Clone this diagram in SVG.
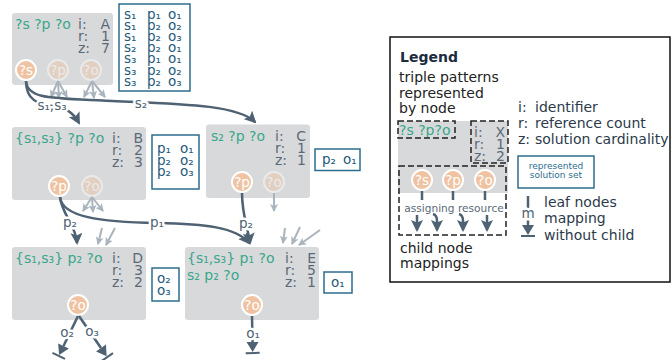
<svg xmlns="http://www.w3.org/2000/svg" width="672" height="360" viewBox="0 0 672 360">
  <style>
    text { font-family: 'DejaVu Sans', 'Liberation Sans', sans-serif; }
    .nd { fill: #d8d9db; }
    .pat { fill: #3aa78b; font-size: 14px; }
    .meta { fill: #5b6a78; font-size: 14px; }
    .val { fill: #5b6a78; font-size: 14px; text-anchor: end; }
    .solbox { fill: #fff; stroke: #2d6d8c; stroke-width: 1.5; }
    .sol { fill: #1e5a7a; font-size: 13.5px; }
    .var { fill: #efc3a1; stroke: #fff; stroke-width: 2; }
    .vt { fill: #fff; font-size: 13.5px; text-anchor: middle; }
    .faded { opacity: 0.45; }
    .edge { stroke: #4e6273; stroke-width: 2.5; fill: none; }
    .edge-l { stroke: #a9b4be; stroke-width: 2; fill: none; }
    .lbl { fill: #4e6273; font-size: 13.5px; text-anchor: middle; stroke: #fff; stroke-width: 5; stroke-linejoin: round; paint-order: stroke; }
    .dash { fill: none; stroke: #222; stroke-width: 1.5; stroke-dasharray: 6 3; }
    .lg { fill: #222; font-size: 14px; }
    .lg2 { fill: #2b3a4b; font-size: 14px; }
  </style>
  <defs>
    <marker id="ah" viewBox="0 0 12 12" refX="10" refY="6" markerWidth="12" markerHeight="12" markerUnits="userSpaceOnUse" orient="auto">
      <path d="M0,0 L12,6 L0,12 L2.5,6 z" fill="#4e6273"/>
    </marker>
    <marker id="ahg" viewBox="0 0 8 8" refX="7" refY="4" markerWidth="8" markerHeight="8" markerUnits="userSpaceOnUse" orient="auto">
      <path d="M0,0 L8,4 L0,8 L2,4 z" fill="#a9b4be"/>
    </marker>
    <marker id="leaf" viewBox="-1 -8 14 16" refX="0" refY="0" markerWidth="14" markerHeight="16" markerUnits="userSpaceOnUse" orient="auto">
      <path d="M0,-6 L10,0 L0,6 z" fill="#4e6273"/>
      <path d="M11,-7 V7" stroke="#4e6273" stroke-width="2"/>
    </marker>
  </defs>

  <!-- node A -->
  <g id="node-A">
    <rect class="nd" x="12" y="13" width="101" height="72" rx="3"/>
    <text class="pat" x="15" y="29">?s ?p ?o</text>
    <text class="meta" x="78" y="29">i:</text><text class="val" x="110" y="29">A</text>
    <text class="meta" x="78" y="41">r:</text><text class="val" x="110" y="41">1</text>
    <text class="meta" x="78" y="53">z:</text><text class="val" x="110" y="53">7</text>
    <circle class="var" cx="26" cy="70" r="10"/><text class="vt" x="26" y="74.8">?s</text>
    <g class="faded"><circle class="var" cx="58" cy="70" r="10"/><text class="vt" x="58" y="74.8">?p</text></g>
    <g class="faded"><circle class="var" cx="91" cy="70" r="10"/><text class="vt" x="91" y="74.8">?o</text></g>
    <rect class="solbox" x="119" y="4" width="71" height="87"/>
    <text class="sol"><tspan x="124" y="18.5">s₁</tspan><tspan x="147" y="18.5">p₁</tspan><tspan x="168" y="18.5">o₁</tspan></text>
    <text class="sol"><tspan x="124" y="29.7">s₁</tspan><tspan x="147" y="29.7">p₂</tspan><tspan x="168" y="29.7">o₂</tspan></text>
    <text class="sol"><tspan x="124" y="40.9">s₁</tspan><tspan x="147" y="40.9">p₂</tspan><tspan x="168" y="40.9">o₃</tspan></text>
    <text class="sol"><tspan x="124" y="52.1">s₂</tspan><tspan x="147" y="52.1">p₂</tspan><tspan x="168" y="52.1">o₁</tspan></text>
    <text class="sol"><tspan x="124" y="63.3">s₃</tspan><tspan x="147" y="63.3">p₁</tspan><tspan x="168" y="63.3">o₁</tspan></text>
    <text class="sol"><tspan x="124" y="74.5">s₃</tspan><tspan x="147" y="74.5">p₂</tspan><tspan x="168" y="74.5">o₂</tspan></text>
    <text class="sol"><tspan x="124" y="85.7">s₃</tspan><tspan x="147" y="85.7">p₂</tspan><tspan x="168" y="85.7">o₃</tspan></text>
  </g>

  <!-- node B -->
  <g id="node-B">
    <rect class="nd" x="12" y="127" width="134" height="73" rx="3"/>
    <text class="pat" x="15" y="143">{s₁,s₃} ?p ?o</text>
    <text class="meta" x="112" y="143">i:</text><text class="val" x="143" y="143">B</text>
    <text class="meta" x="112" y="155">r:</text><text class="val" x="143" y="155">2</text>
    <text class="meta" x="112" y="167">z:</text><text class="val" x="143" y="167">3</text>
    <circle class="var" cx="59" cy="186" r="10"/><text class="vt" x="59" y="190.8">?p</text>
    <g class="faded"><circle class="var" cx="92" cy="186" r="10"/><text class="vt" x="92" y="190.8">?o</text></g>
    <rect class="solbox" x="152" y="135" width="47" height="54"/>
    <text class="sol"><tspan x="157" y="153">p₁</tspan><tspan x="180" y="153">o₁</tspan></text>
    <text class="sol"><tspan x="157" y="164.5">p₂</tspan><tspan x="180" y="164.5">o₂</tspan></text>
    <text class="sol"><tspan x="157" y="176">p₂</tspan><tspan x="180" y="176">o₃</tspan></text>
  </g>

  <!-- node C -->
  <g id="node-C">
    <rect class="nd" x="206" y="124.5" width="104" height="73.5" rx="3"/>
    <text class="pat" x="211" y="141">s₂ ?p ?o</text>
    <text class="meta" x="275" y="141">i:</text><text class="val" x="306" y="141">C</text>
    <text class="meta" x="275" y="153">r:</text><text class="val" x="306" y="153">1</text>
    <text class="meta" x="275" y="165">z:</text><text class="val" x="306" y="165">1</text>
    <circle class="var" cx="242" cy="182" r="10"/><text class="vt" x="242" y="186.8">?p</text>
    <g class="faded"><circle class="var" cx="274" cy="182" r="10"/><text class="vt" x="274" y="186.8">?o</text></g>
    <rect class="solbox" x="315" y="149" width="45" height="21.5"/>
    <text class="sol"><tspan x="322" y="164">p₂</tspan><tspan x="343" y="164">o₁</tspan></text>
  </g>

  <!-- node D -->
  <g id="node-D">
    <rect class="nd" x="12" y="247" width="134" height="73" rx="3"/>
    <text class="pat" x="15" y="263">{s₁,s₃} p₂ ?o</text>
    <text class="meta" x="112" y="263">i:</text><text class="val" x="143" y="263">D</text>
    <text class="meta" x="112" y="275">r:</text><text class="val" x="143" y="275">3</text>
    <text class="meta" x="112" y="287">z:</text><text class="val" x="143" y="287">2</text>
    <circle class="var" cx="78" cy="305" r="10"/><text class="vt" x="78" y="309.8">?o</text>
    <rect class="solbox" x="152" y="268" width="27" height="33"/>
    <text class="sol"><tspan x="157" y="283">o₂</tspan></text>
    <text class="sol"><tspan x="157" y="295">o₃</tspan></text>
  </g>

  <!-- node E -->
  <g id="node-E">
    <rect class="nd" x="185" y="247" width="134" height="73" rx="3"/>
    <text class="pat" x="187" y="263">{s₁,s₃} p₁ ?o</text>
    <text class="pat" x="187" y="280">s₂ p₂ ?o</text>
    <text class="meta" x="285" y="263">i:</text><text class="val" x="316" y="263">E</text>
    <text class="meta" x="285" y="275">r:</text><text class="val" x="316" y="275">5</text>
    <text class="meta" x="285" y="287">z:</text><text class="val" x="316" y="287">1</text>
    <circle class="var" cx="252" cy="305" r="10"/><text class="vt" x="252" y="309.8">?o</text>
    <rect class="solbox" x="324" y="272" width="28" height="21"/>
    <text class="sol"><tspan x="331" y="287">o₁</tspan></text>
  </g>

  <!-- connectors -->
  <g id="connectors">
    <!-- mappings without a drawn target -->
    <path class="edge-l" marker-end="url(#ahg)" d="M58,81 L51,97"/>
    <path class="edge-l" marker-end="url(#ahg)" d="M58,81 L59,98"/>
    <path class="edge-l" marker-end="url(#ahg)" d="M58,81 L67,97"/>
    <path class="edge-l" marker-end="url(#ahg)" d="M92,81 L84,97"/>
    <path class="edge-l" marker-end="url(#ahg)" d="M92,81 L94,98"/>
    <path class="edge-l" marker-end="url(#ahg)" d="M92,81 L105,97"/>
    <path class="edge-l" marker-end="url(#ahg)" d="M92,197 L83,211"/>
    <path class="edge-l" marker-end="url(#ahg)" d="M92,197 L93,212"/>
    <path class="edge-l" marker-end="url(#ahg)" d="M92,197 L103,211"/>
    <path class="edge-l" marker-end="url(#ahg)" d="M274,193 L274,211"/>
    <path class="edge-l" marker-end="url(#ahg)" d="M102,228 L98,244"/>
    <path class="edge-l" marker-end="url(#ahg)" d="M115,228 L106,245"/>
    <path class="edge-l" marker-end="url(#ahg)" d="M285,228 L283,243"/>
    <path class="edge-l" marker-end="url(#ahg)" d="M300,227 L292,244"/>
    <path class="edge-l" marker-end="url(#ahg)" d="M320,230 L299,245"/>

    <!-- A to B and C -->
    <path class="edge" marker-end="url(#ah)" d="M26,81 C27,97 45,98 90,100 C170,104 236,103 255,122"/>
    <path class="edge" marker-end="url(#ah)" d="M26,81 C26,100 38,104 52,106 C66,108 73,112 79,123"/>
    <text class="lbl" x="52" y="110">s₁,s₃</text>
    <text class="lbl" x="141" y="108">s₂</text>

    <!-- B to D and E -->
    <path class="edge" marker-end="url(#ah)" d="M60,197 C62,217 100,222 157,223 C205,224 236,227 249,243"/>
    <path class="edge" marker-end="url(#ah)" d="M60,197 C62,215 76,225 77,243"/>
    <text class="lbl" x="70" y="227">p₂</text>
    <text class="lbl" x="157" y="227">p₁</text>

    <!-- C to E -->
    <path class="edge" marker-end="url(#ah)" d="M242,193 C242,215 248,228 250,243"/>
    <text class="lbl" x="246" y="228">p₂</text>

    <!-- leaf mappings -->
    <path class="edge" marker-end="url(#leaf)" d="M78,316 L63.5,346"/>
    <path class="edge" marker-end="url(#leaf)" d="M79,316 L101,348"/>
    <path class="edge" marker-end="url(#leaf)" d="M252,316 L252.5,342"/>
    <text class="lbl" x="67" y="337">o₂</text>
    <text class="lbl" x="92" y="336">o₃</text>
    <text class="lbl" x="253" y="338">o₁</text>
  </g>

  <!-- legend -->
  <g id="legend">
    <rect x="390" y="37" width="280" height="245" fill="#fff" stroke="#111" stroke-width="1.5"/>
    <text x="400" y="62" font-size="14" font-weight="bold" fill="#1c2b3f">Legend</text>
    <text class="lg" x="399" y="82">triple patterns</text>
    <text class="lg" x="399" y="97.5">represented</text>
    <text class="lg" x="399" y="113">by node</text>

    <text class="lg2" x="518" y="112">i:</text><text class="lg2" x="535" y="112">identifier</text>
    <text class="lg2" x="518" y="128">r:</text><text class="lg2" x="535" y="128">reference count</text>
    <text class="lg2" x="518" y="143.5">z:</text><text class="lg2" x="535" y="143.5">solution cardinality</text>

    <g id="legend-node">
      <rect class="nd" x="398" y="121" width="110" height="72"/>
      <text class="pat" x="399" y="135">?s ?p?o</text>
      <rect class="dash" x="398" y="121" width="57" height="17"/>
      <text class="meta" x="474" y="137">i:</text><text class="val" x="505" y="137">X</text>
      <text class="meta" x="474" y="149">r:</text><text class="val" x="505" y="149">1</text>
      <text class="meta" x="474" y="161">z:</text><text class="val" x="505" y="161">2</text>
      <rect class="dash" x="471" y="121" width="37" height="42"/>
      <circle class="var" cx="422" cy="180" r="10"/><text class="vt" x="422" y="184.8">?s</text>
      <circle class="var" cx="453" cy="180" r="10"/><text class="vt" x="453" y="184.8">?p</text>
      <circle class="var" cx="485" cy="180" r="10"/><text class="vt" x="485" y="184.8">?o</text>
      <path class="edge" d="M422,191 V200 M453,191 V200 M485,191 V200"/>
      <text x="454" y="212" font-size="10.6" fill="#5b6a78" text-anchor="middle">assigning resource</text>
      <path class="edge" marker-end="url(#ah)" d="M417,215 V230"/>
      <path class="edge" marker-end="url(#ah)" d="M433,214 Q437,215 437,221 V230"/>
      <path class="edge" marker-end="url(#ah)" d="M459,214 Q463,215 463,221 V230"/>
      <path class="edge" marker-end="url(#ah)" d="M487,215 V230"/>
      <rect class="dash" x="399" y="166" width="107" height="69"/>
    </g>
    <text class="lg" x="400" y="253">child node</text>
    <text class="lg" x="400" y="268">mappings</text>

    <rect class="solbox" x="518" y="156" width="76" height="32"/>
    <text x="556" y="169" font-size="9" fill="#2b6d8e" text-anchor="middle">represented</text>
    <text x="556" y="178" font-size="9" fill="#2b6d8e" text-anchor="middle">solution set</text>

    <path class="edge" marker-end="url(#leaf)" d="M528,196 V225"/>
    <text class="lbl" x="528" y="218" font-size="14">m</text>
    <text class="lg2" x="544" y="207">leaf nodes</text>
    <text class="lg2" x="544" y="223">mapping</text>
    <text class="lg2" x="544" y="240">without child</text>
  </g>
</svg>
